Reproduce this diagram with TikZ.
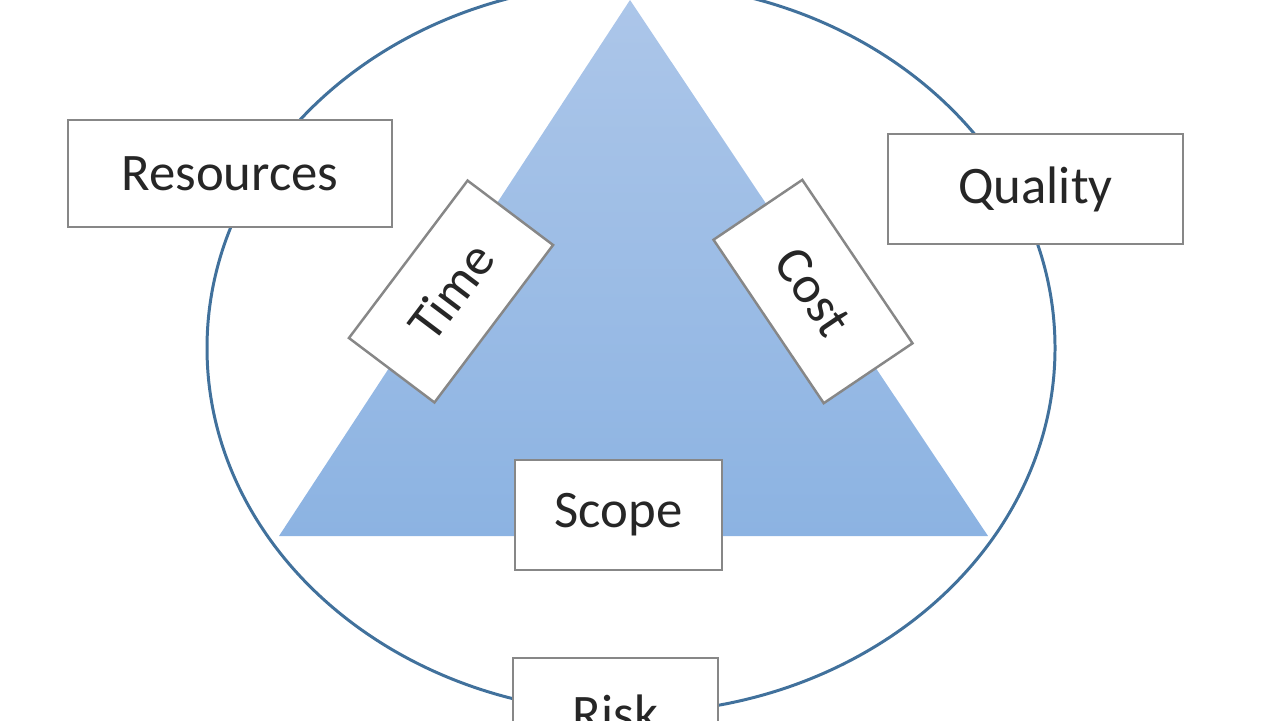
\documentclass[tikz,border=0pt]{standalone}
\usepackage{fontspec}
\setmainfont{Carlito}
\definecolor{ringblue}{RGB}{65,113,156}
\definecolor{tritop}{RGB}{172,198,233}
\definecolor{tribot}{RGB}{140,179,226}
\definecolor{boxgray}{RGB}{135,135,135}
\usetikzlibrary{positioning}

\begin{document}
\begin{tikzpicture}[x=0.01cm, y=-0.01cm]
    \tikzset{labelbox/.style={rectangle, draw=boxgray, line width=0.7pt, fill=white,
      inner sep=0pt, font=\fontsize{15pt}{18pt}\selectfont, text=black!85}}
    \tikzset{sidebox/.style={labelbox, minimum width=1.97cm, minimum height=1.07cm}}

    \useasboundingbox (0,0) rectangle (1280,720);
    \clip (0,0) rectangle (1280,720);

    % Outer ring
    \draw[ringblue, line width=0.85pt] (631,348) ellipse [x radius=424, y radius=365];

    % Triangle
    \shade[top color=tritop, bottom color=tribot] (630,0) -- (988,536) -- (279,536) -- cycle;

    % Corner boxes
    \node[labelbox, minimum width=3.24cm, minimum height=1.07cm] (resources) at (230,173.5) {Resources};
    \node[labelbox, minimum width=2.95cm, minimum height=1.10cm] (quality) at (1035.5,189) {Quality};

    % Sides of the triangle
    \node[sidebox, rotate=53] (timebox) at (451,291.5) {Time};
    \node[sidebox, rotate=-56] (costbox) at (813,291.5) {Cost};

    % Base and bottom
    \node[labelbox, minimum width=2.07cm, minimum height=1.10cm] (scope) at (618.5,515) {Scope};
    \node[labelbox, minimum width=2.05cm, minimum height=1.10cm] (risk) at (615.5,713) {Risk};
\end{tikzpicture}
\end{document}
